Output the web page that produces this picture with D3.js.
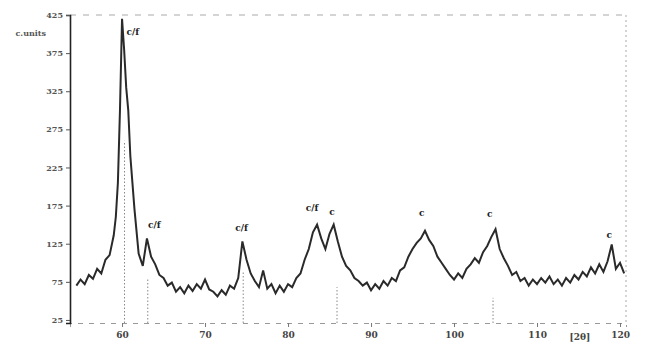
<!DOCTYPE html>
<html>
<head>
<meta charset="utf-8">
<script src="https://cdn.jsdelivr.net/npm/d3@7/dist/d3.min.js"></script>
<style>
  body { margin: 0; background: #fff; }
  text { font-family: "DejaVu Serif", serif; }
</style>
</head>
<body>
<div id="chart"></div>
<script>
// 2theta (deg) and intensity
const twoTheta = [
  54.5, 55, 55.5, 56, 56.5, 57, 57.5, 58, 58.5, 59, 59.25, 59.5, 59.75, 60, 60.25, 60.5, 60.75, 61, 61.5,
  62, 62.5, 63, 63.5, 64, 64.5, 65, 65.5, 66, 66.5, 67, 67.5, 68, 68.5, 69, 69.5, 70, 70.5, 71, 71.5,
  72, 72.5, 73, 73.5, 74, 74.5, 75, 75.5, 76, 76.5, 77, 77.5, 78, 78.5, 79, 79.5, 80, 80.5, 81, 81.5,
  82, 82.5, 83, 83.5, 84, 84.5, 85, 85.5, 86, 86.5, 87, 87.5, 88, 88.5, 89, 89.5, 90, 90.5, 91, 91.5,
  92, 92.5, 93, 93.5, 94, 94.5, 95, 95.5, 96, 96.5, 97, 97.5, 98, 98.5, 99, 99.5, 100, 100.5, 101, 101.5,
  102, 102.5, 103, 103.5, 104, 104.5, 105, 105.5, 106, 106.5, 107, 107.5, 108, 108.5, 109, 109.5, 110, 110.5,
  111, 111.5, 112, 112.5, 113, 113.5, 114, 114.5, 115, 115.5, 116, 116.5, 117, 117.5, 118, 118.5, 119, 119.5,
  120, 120.5
];
const counts = [
  70, 78, 72, 84, 79, 92, 86, 104, 110, 136, 160, 205, 300, 420, 380, 330, 300, 240, 170,
  112, 96, 132, 108, 98, 84, 80, 70, 74, 62, 68, 60, 70, 63, 72, 66, 78, 65, 62, 56,
  64, 58, 70, 66, 80, 128, 104, 86, 76, 68, 90, 66, 72, 60, 70, 62, 72, 68, 80, 86,
  104, 118, 140, 150, 132, 118, 138, 150, 128, 108, 96, 90, 80, 76, 70, 74, 64, 72, 66, 76,
  70, 80, 76, 90, 94, 108, 118, 126, 132, 142, 130, 122, 108, 100, 92, 84, 78, 86, 80, 92,
  98, 106, 100, 114, 122, 134, 144, 118, 106, 96, 84, 88, 76, 80, 70, 78, 72, 80,
  74, 82, 72, 78, 70, 80, 74, 84, 78, 88, 82, 94, 86, 98, 88, 102, 124, 92,
  100, 86
];

const yTicks = [25, 75, 125, 175, 225, 275, 325, 375, 425];
const xTicks = [60, 70, 80, 90, 100, 110, 120];

// phase labels above the reflections
const peakLabels = ["c/f", "c/f", "c/f", "c/f", "c", "c", "c", "c"];
const peakLabelTheta = [61.3, 63.9, 74.4, 82.9, 85.3, 96.1, 104.3, 118.7];
const peakLabelCounts = [403, 150, 146, 172, 167, 165, 164, 136];

// reference sticks (dotted)
const refTheta = [60.3, 63.1, 74.6, 85.9, 104.7];
const refCounts = [260, 80, 88, 68, 54];

const W = 647, H = 344;
const plot = { left: 70, right: 626, top: 15, bottom: 323 };

const svg = d3.select('#chart').append('svg')
  .attr('width', W)
  .attr('height', H);

const x = d3.scaleLinear().domain([53.73, 120.72]).range([plot.left, plot.right]);
const y = d3.scaleLinear().domain([21, 425]).range([plot.bottom, plot.top]);

// frame: dashed top / right
svg.append('line')
  .attr('x1', plot.left).attr('x2', plot.right)
  .attr('y1', plot.top).attr('y2', plot.top)
  .attr('stroke', '#aaa').attr('stroke-dasharray', '6,7');
svg.append('line')
  .attr('x1', plot.right).attr('x2', plot.right)
  .attr('y1', plot.top).attr('y2', plot.bottom)
  .attr('stroke', '#aaa').attr('stroke-dasharray', '2,3');

// bottom axis
const xAxis = svg.append('g')
  .attr('transform', `translate(0, ${plot.bottom})`)
  .call(d3.axisBottom(x).tickValues(xTicks).tickSize(4).tickFormat(d3.format('d')));
xAxis.select('.domain').attr('stroke', '#999').attr('stroke-dasharray', '5,6');
xAxis.selectAll('.tick line').attr('stroke', '#777');
xAxis.selectAll('.tick text')
  .attr('font-family', '"DejaVu Serif", serif')
  .attr('font-size', 9).attr('font-weight', 'bold').attr('fill', '#444').attr('dy', '0.9em');

svg.append('text')
  .attr('x', 580).attr('y', 340)
  .attr('text-anchor', 'middle')
  .attr('font-size', 9).attr('font-weight', 'bold').attr('fill', '#444')
  .text('[2θ]');

// left axis
const yAxis = svg.append('g')
  .attr('transform', `translate(${plot.left}, 0)`)
  .call(d3.axisLeft(y).tickValues(yTicks).tickSize(4).tickFormat(d3.format('d')));
yAxis.select('.domain').attr('stroke', '#222').attr('stroke-width', 1.6);
yAxis.selectAll('.tick line').attr('stroke', '#555');
yAxis.selectAll('.tick text')
  .attr('font-family', '"DejaVu Serif", serif')
  .attr('font-size', 8).attr('font-weight', 'bold').attr('fill', '#555');

svg.append('text')
  .attr('x', 46).attr('y', 36)
  .attr('text-anchor', 'end')
  .attr('font-size', 8).attr('font-weight', 'bold').attr('fill', '#555')
  .text('c.units');

// reference sticks
svg.append('g').selectAll('line')
  .data(refTheta)
  .join('line')
  .attr('x1', d => x(d)).attr('x2', d => x(d))
  .attr('y1', y.range()[0])
  .attr('y2', (d, i) => y(refCounts[i]))
  .attr('stroke', '#888')
  .attr('stroke-dasharray', '1.5,2');

// pattern
const pts = twoTheta.map((t, i) => [t, counts[i]]);
const line = d3.line()
  .x(d => x(d[0]))
  .y(d => y(d[1]));

svg.append('path')
  .datum(pts)
  .attr('fill', 'none')
  .attr('stroke', '#2a2a2a')
  .attr('stroke-width', 2)
  .attr('d', line);

// peak labels
svg.append('g').selectAll('text')
  .data(peakLabels)
  .join('text')
  .attr('x', (d, i) => x(peakLabelTheta[i]))
  .attr('y', (d, i) => y(peakLabelCounts[i]))
  .attr('text-anchor', 'middle')
  .attr('dy', '0.35em')
  .attr('font-size', 9)
  .attr('font-weight', 'bold')
  .attr('fill', '#222')
  .text(d => d);
</script>
</body>
</html>
